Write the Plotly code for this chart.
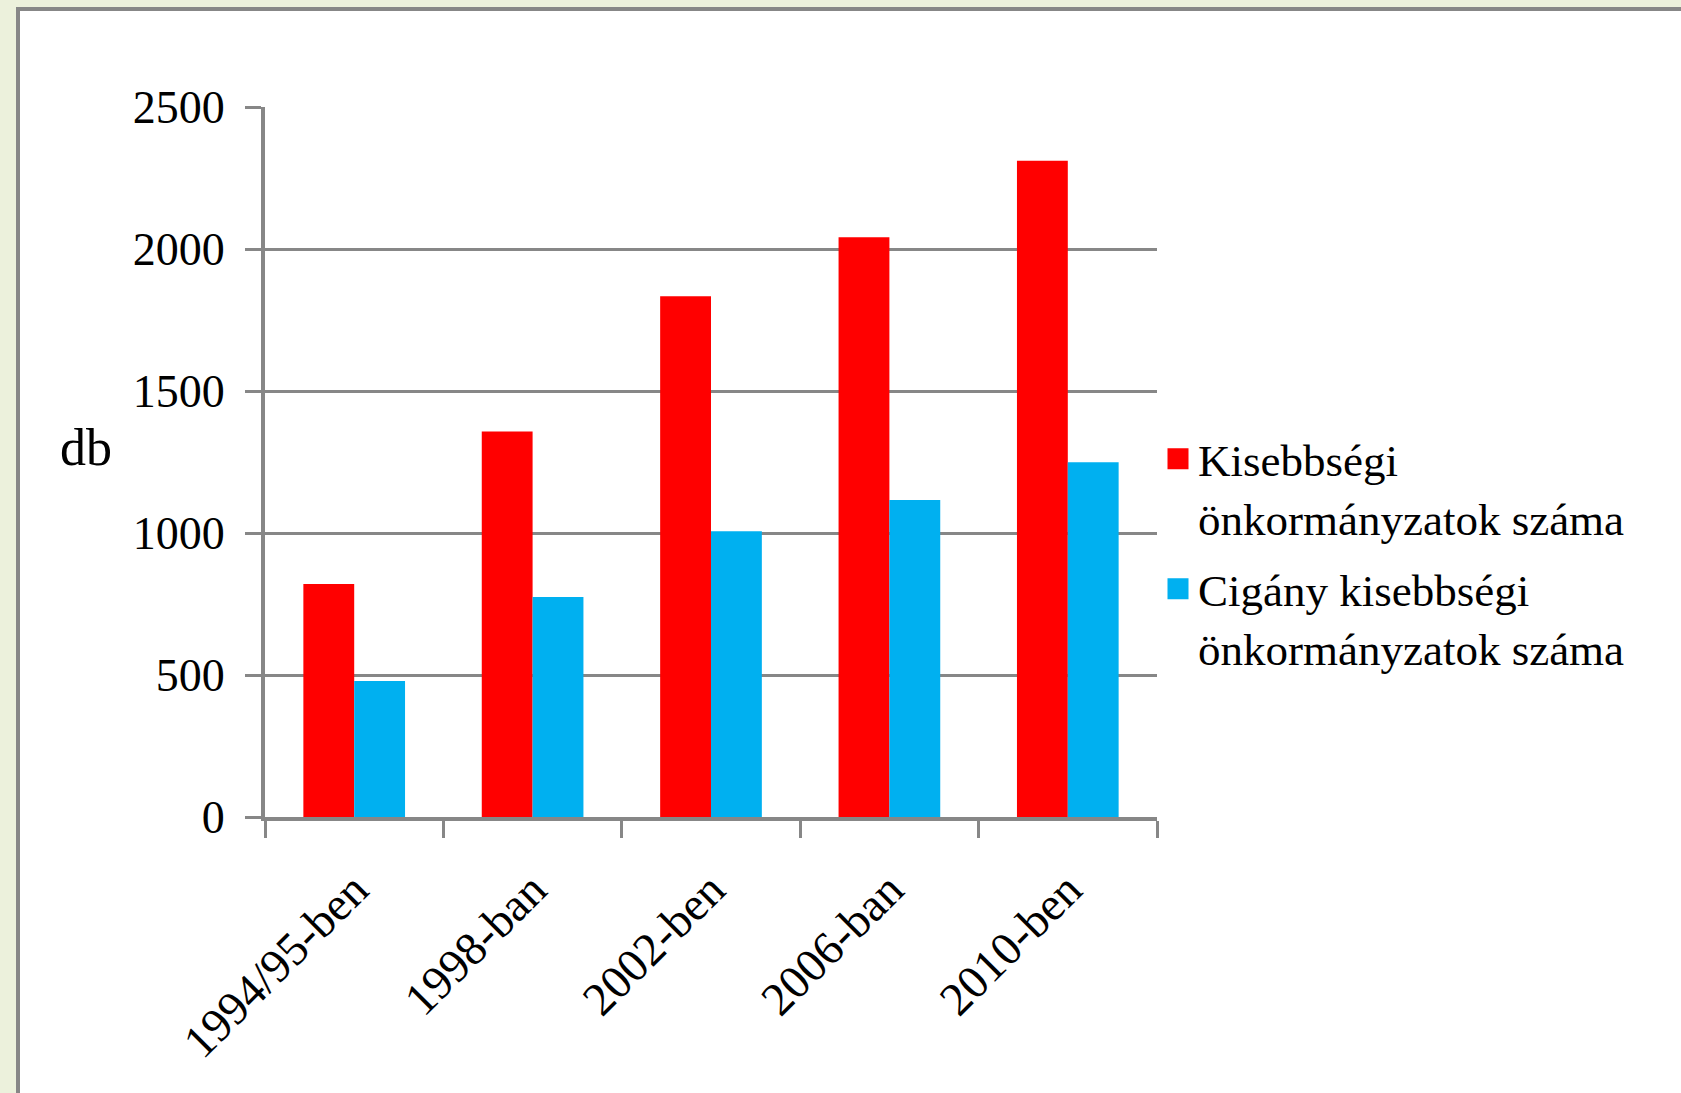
import plotly.graph_objects as go

categories = ["1994/95-ben", "1998-ban", "2002-ben", "2006-ban", "2010-ben"]
kisebbsegi = [820, 1357, 1834, 2041, 2311]
cigany = [479, 775, 1006, 1116, 1249]
series_names = ["Kisebbségi<br>önkormányzatok száma", "Cigány kisebbségi<br>önkormányzatok száma"]
colors = ["#FF0000", "#00B0F0"]
y_ticks = [0, 500, 1000, 1500, 2000, 2500]

W, H = 1681, 1093
L, R, T, B = 265, 1157, 107, 817
pw, ph = R - L, B - T

def px(x):
    return (x - L) / pw

def py(y):
    return (B - y) / ph

FONT = "Liberation Serif"
AX = "#878787"

fig = go.Figure()
for vals, name, col in zip([kisebbsegi, cigany], series_names, colors):
    fig.add_trace(go.Bar(x=categories, y=vals, name=name, marker_color=col,
                         marker_line_width=0, showlegend=False))
for i, (name, col) in enumerate(zip(series_names, colors)):
    fig.add_trace(go.Scatter(x=[None], y=[None], mode="markers", name=name,
                             legendgroup="g%d" % i,
                             marker=dict(symbol="square", size=16, color=col,
                                         line=dict(color=col, width=5)),
                             showlegend=True))

fig.update_layout(
    width=W, height=H,
    margin=dict(l=L, r=W - R, t=T, b=H - B, pad=0),
    paper_bgcolor="#ECF1DC",
    plot_bgcolor="rgba(0,0,0,0)",
    barmode="group",
    bargap=0.43,
    bargroupgap=0,
    font=dict(family=FONT, size=46, color="#000000"),
    legend=dict(x=px(1158), y=py(423), xanchor="left", yanchor="top",
                font=dict(family=FONT, size=45, color="#000000"),
                valign="top", tracegroupgap=10, bgcolor="rgba(0,0,0,0)",
                itemwidth=30),
    shapes=[dict(type="rect", xref="paper", yref="paper", layer="below",
                 x0=px(18), x1=px(1720), y0=py(1130), y1=py(9),
                 fillcolor="#FFFFFF", line=dict(color=AX, width=4))],
    annotations=[dict(text="db", xref="paper", yref="paper", x=px(86), y=py(447),
                      xanchor="center", yanchor="middle", showarrow=False,
                      font=dict(family=FONT, size=52, color="#000000"))],
)

fig.update_xaxes(
    type="category", showgrid=False, showline=True, linecolor=AX, linewidth=4,
    ticks="outside", tickson="boundaries", ticklen=17, tickwidth=3, tickcolor=AX,
    tickangle=-45, tickfont=dict(family=FONT, size=47, color="#000000"),
    ticklabelstandoff=22, zeroline=False,
)
fig.update_yaxes(
    range=[0, 2500], tickvals=y_ticks, ticktext=[str(v) for v in y_ticks],
    showgrid=True, gridcolor=AX, gridwidth=3, showline=True, linecolor=AX, linewidth=4,
    ticks="outside", ticklen=16, tickwidth=3, tickcolor=AX,
    tickfont=dict(family=FONT, size=46, color="#000000"),
    ticklabelstandoff=11, zeroline=False,
)

fig.write_html("out.html", config={"displayModeBar": False},
               post_script="document.body.style.margin='0';document.body.style.overflow='hidden';")
